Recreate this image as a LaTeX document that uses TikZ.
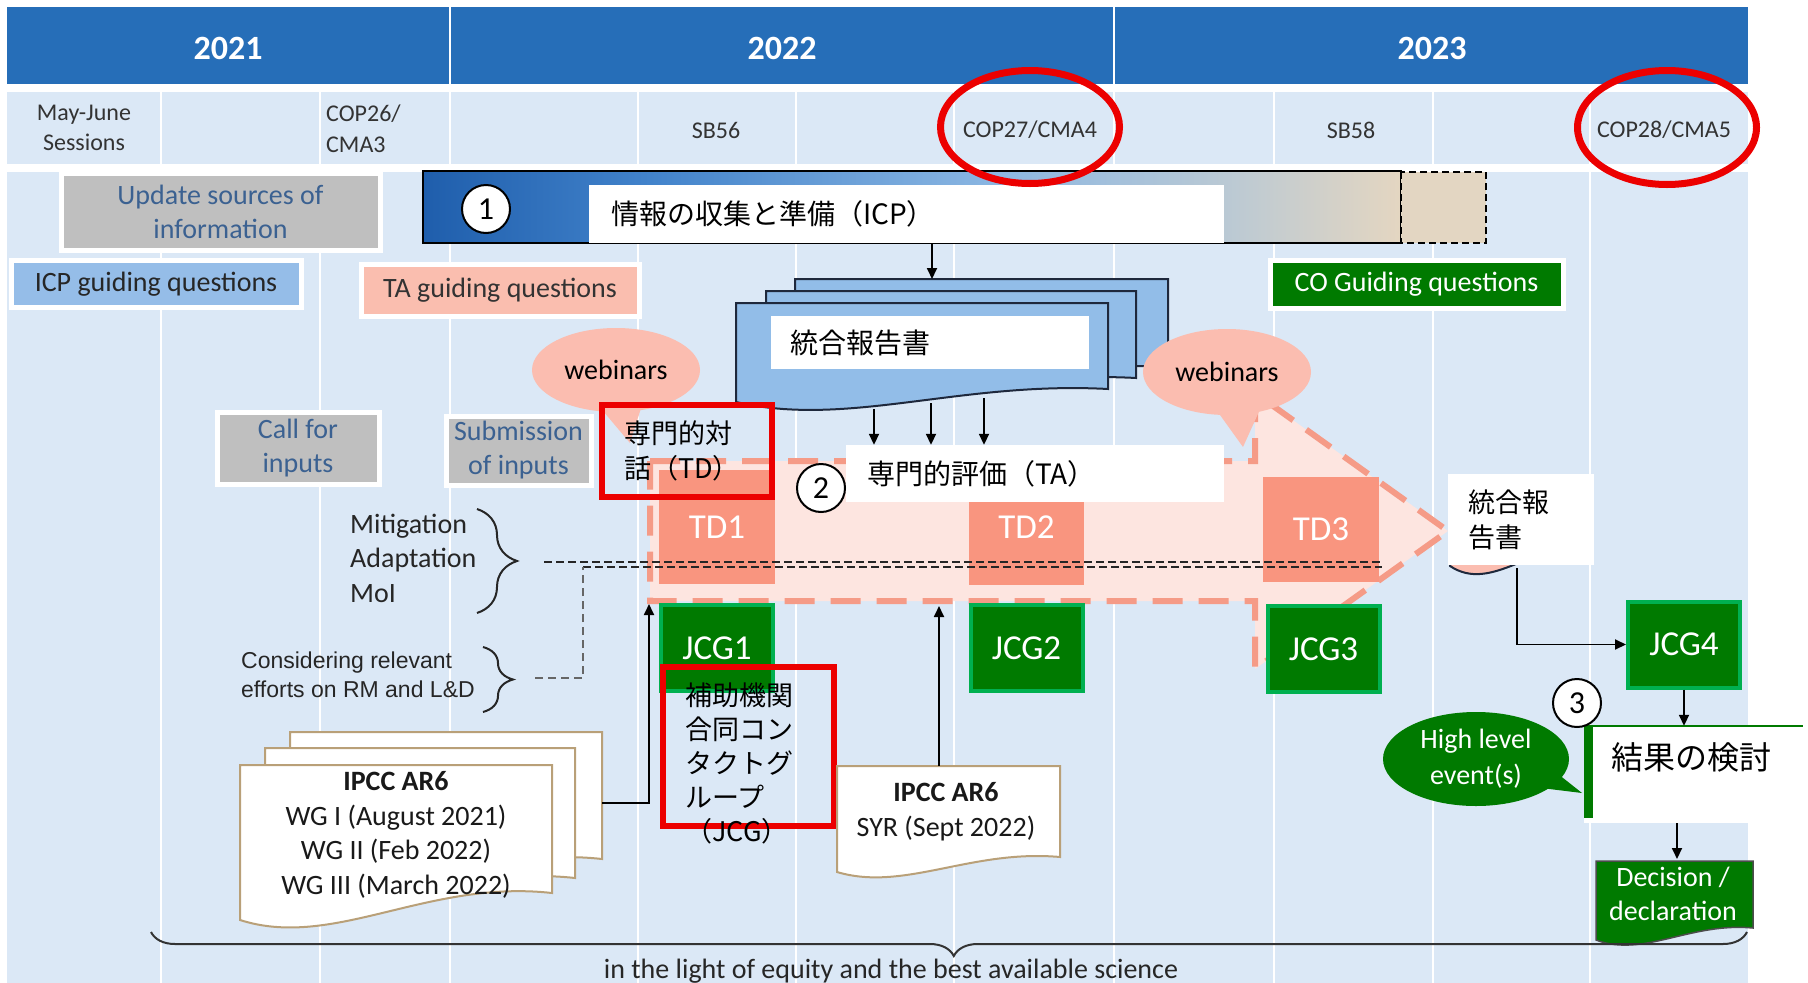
\documentclass[tikz,border=0pt]{standalone}
\usepackage{fontspec}
\setmainfont{Carlito}
\newfontfamily\jpf{Noto Sans CJK JP}
\newfontfamily\arialf{Liberation Sans}
\usetikzlibrary{arrows.meta,decorations.pathreplacing,calc,shapes.geometric}
\definecolor{hdrblue}{RGB}{38,110,184}
\definecolor{lightbg}{RGB}{219,232,246}
\definecolor{boxgray}{RGB}{191,191,191}
\definecolor{bluetext}{RGB}{59,97,145}
\definecolor{icpblue}{RGB}{149,189,232}
\definecolor{tasal}{RGB}{250,190,175}
\definecolor{webc}{RGB}{251,189,176}
\definecolor{tdsal}{RGB}{249,149,127}
\definecolor{arrfill}{RGB}{253,229,224}
\definecolor{arrdash}{RGB}{245,155,135}
\definecolor{dgreen}{RGB}{0,122,0}
\definecolor{lgreen}{RGB}{0,176,80}
\definecolor{docblue}{RGB}{146,189,232}
\definecolor{docline}{RGB}{30,40,60}
\definecolor{ipccline}{RGB}{185,160,120}
\definecolor{beige}{RGB}{227,214,194}
\definecolor{gA}{RGB}{31,94,172}
\definecolor{gB}{RGB}{66,131,203}
\definecolor{gC}{RGB}{140,183,226}
\definecolor{gD}{RGB}{186,201,212}
\definecolor{gE}{RGB}{228,214,193}
\definecolor{redc}{RGB}{236,0,0}
\newcommand\fsz[2]{\fontsize{#1}{#2}\selectfont}
% style, x1, ytop, x2, yLeftBottom, yRightBottom, dipLeft, riseRight
\newcommand\docshape[8]{\path[#1] (#2,#3) -- (#4,#3) -- (#4,#6) .. controls ({#2+0.6*(#4-#2)},{#6-#8}) and ({#2+0.3*(#4-#2)},{#5+#7}) .. (#2,#5) -- cycle;}
\begin{document}
\begin{tikzpicture}[x=1pt,y=-1pt,
  every node/.style={inner sep=0pt},
  hdr/.style={text=white, font=\bfseries\fsz{34}{40}},
  rowtwo/.style={text=black!80, font=\fsz{24}{31}},
  gbox/.style={fill=boxgray, draw=white, line width=5pt, text=bluetext, align=center, font=\fsz{28}{34}},
  qbox/.style={draw=white, line width=5pt, font=\fsz{28}{34}},
  arr/.style={-{Triangle[length=11pt,width=10pt]}, line width=1.8pt, black},
  numc/.style={circle, draw=black, fill=white, line width=2pt, minimum size=48pt, font=\fsz{32}{36}},
  tdbox/.style={fill=tdsal, text=white, font=\fsz{35}{40}},
  jcgbox/.style={fill=dgreen, draw=lgreen, line width=4pt, text=white, minimum width=112pt, minimum height=86pt, font=\fsz{35}{40}},
  jtext/.style={font=\jpf\fsz{28}{34}},
  ddash/.style={black!85, line width=2pt, dash pattern=on 8pt off 4pt}
]
\useasboundingbox (0,0) rectangle (1808,983);
\fill[white] (0,0) rectangle (1808,983);
% timeline background
\fill[hdrblue] (7,7) rectangle (1748,84);
\fill[lightbg] (7,92) rectangle (1748,164);
\fill[lightbg] (7,172) rectangle (1748,983);
\foreach \x in {450,1114} \draw[white, line width=2pt] (\x,7) -- (\x,84);
\foreach \x in {161,320,450,638,796,954,1114,1274,1433,1590} {
  \draw[white,line width=2pt] (\x,92) -- (\x,164);
  \draw[white,line width=2pt] (\x,172) -- (\x,983);}
\node[hdr] (y21) at (228,48) {2021};
\node[hdr] (y22) at (782,48) {2022};
\node[hdr] (y23) at (1432,48) {2023};
\node[rowtwo, align=center, font=\fsz{24}{30}] (mj) at (84,128) {May-June\\Sessions};
\node[rowtwo, align=left, anchor=west] (cop26) at (326,129) {COP26/\\CMA3};
\node[rowtwo] (sb56) at (716,130) {SB56};
\node[rowtwo] (cop27) at (1030,130) {COP27/CMA4};
\node[rowtwo] (sb58) at (1351,130) {SB58};
\node[rowtwo] (cop28) at (1664,130) {COP28/CMA5};
% guiding boxes
\node[gbox, minimum width=319pt, minimum height=77pt] (upd) at (220.5,211.5) {Update sources of\\information};
\node[qbox, fill=icpblue, text=black!85, minimum width=290pt, minimum height=47pt] (icpq) at (156,284) {ICP guiding questions};
\node[qbox, fill=tasal, text=black!80, minimum width=278pt, minimum height=52pt] (taq) at (500,290) {TA guiding questions};
\node[qbox, fill=dgreen, text=white, minimum width=293pt, minimum height=48pt] (coq) at (1416.5,284) {CO Guiding questions};
% ICP bar
\shade[left color=gA, right color=gB] (423,171) rectangle (650,243);
\shade[left color=gB, right color=gC] (650,171) rectangle (1000,243);
\shade[left color=gC, right color=gD] (1000,171) rectangle (1225,243);
\shade[left color=gD, right color=gE] (1225,171) rectangle (1401,243);
\draw[line width=2pt] (423,171) rectangle (1401,243);
\draw[fill=beige, line width=2pt, dash pattern=on 7pt off 4pt] (1401,172) rectangle (1486,243);
\node[numc] (n1) at (486,209) {1};
\node[jtext, anchor=west, fill=white, text width=591pt, inner xsep=22pt, minimum height=58pt, align=left] (icpt) at (589,214) {情報の収集と準備（ICP）};
% synthesis report stack
\docshape{fill=docblue, draw=docline, line width=2pt}{795}{279}{1168}{380}{367}{26}{8}
\docshape{fill=docblue, draw=docline, line width=2pt}{766}{291}{1136}{391}{378}{26}{8}
\docshape{fill=docblue, draw=docline, line width=2pt}{736}{303}{1108}{402}{389}{26}{8}
\node[jtext, anchor=west, fill=white, text width=280pt, inner xsep=19pt, minimum height=53pt, align=left] (doct) at (771,342.5) {統合報告書};
\coordinate (docTop) at (932,279);
\draw[arr] (icpt.south -| docTop) -- (docTop);
% TA arrow
\draw[fill=arrfill, draw=arrdash, line width=6pt, dash pattern=on 30pt off 16pt] (650,461) -- (1255,461) -- (1255,393) -- (1448,531) -- (1255,669) -- (1255,601) -- (650,601) -- cycle;
\node[tdbox, minimum width=116pt, minimum height=114pt] (td1) at (717,527) {TD1};
\node[tdbox, minimum width=115pt, minimum height=115pt] (td2) at (1026.5,527.5) {TD2};
\node[tdbox, minimum width=116pt, minimum height=105pt] (td3) at (1321,529.5) {TD3};
\node[jcgbox] (jcg1) at (717,648) {JCG1};
\node[jcgbox] (jcg2) at (1026.5,648) {JCG2};
\node[jcgbox] (jcg3) at (1323.5,649) {JCG3};
\node[jcgbox] (jcg4) at (1684,644.5) {JCG4};
\node[jtext, anchor=west, fill=white, text width=336pt, inner xsep=21pt, minimum height=57pt, align=left] (tat) at (846,473.5) {専門的評価（TA）};
\node[numc] (n2) at (821,488) {2};
\coordinate (d1) at (874,409);
\coordinate (d2) at (931,403);
\coordinate (d3) at (984,398);
\draw[arr] (d1) -- (d1 |- tat.north);
\draw[arr] (d2) -- (d2 |- tat.north);
\draw[arr] (d3) -- (d3 |- tat.north);
% webinars bubbles
\node[ellipse, fill=webc, minimum width=168pt, minimum height=84pt, font=\fsz{28}{34}] (web1) at (616,370) {webinars};
\fill[webc] (598,405) -- (630,443) -- (642,405) -- cycle;
\node[ellipse, fill=webc, minimum width=168pt, minimum height=86pt, font=\fsz{28}{34}] (web2) at (1227,372) {webinars};
\fill[webc] (1215,408) -- (1243,447) -- (1262,405) -- cycle;
% red TD box
\node[draw=redc, line width=6pt, minimum height=92pt, text width=126pt, inner xsep=22pt, align=left, font=\jpf\fsz{27}{35}] (tdr) at (687,451) {専門的対\\話（TD）};
% call / submission
\node[gbox, minimum width=162pt, minimum height=72pt] (call) at (298,448) {Call for\\inputs};
\node[gbox, minimum width=145pt, minimum height=69pt] (sub) at (518.5,450.5) {Submission\\of inputs};
% braces and topics
\node[anchor=west, align=left, text=black!85, font=\fsz{28}{34.5}] (topics) at (350,558) {Mitigation\\Adaptation\\MoI};
\draw[black!85, line width=2pt, decorate, decoration={brace, amplitude=40pt, aspect=0.5}] (477,509) -- (477,613);
\node[anchor=west, align=left, text=black!85, font=\arialf\fsz{23}{29}] (rmld) at (241,674.5) {Considering relevant\\efforts on RM and L\&D};
\draw[black!85, line width=2pt, decorate, decoration={brace, amplitude=30pt, aspect=0.5}] (483,647) -- (483,712);
\coordinate (mA) at (544,562);
\coordinate (mB) at (1382,562);
\coordinate (cA) at (535,678);
\coordinate (cB) at (583,567);
\coordinate (cC) at (1382,567);
\draw[ddash] (mA) -- (mB);
\draw[ddash] (cB) -- (cC);
\draw[black!60, line width=2pt, dash pattern=on 8pt off 5pt] (cA) -| (cB);
% IPCC AR6 WG stack
\docshape{fill=white, draw=ipccline, line width=2pt}{290}{732}{602}{886}{859}{30}{14}
\docshape{fill=white, draw=ipccline, line width=2pt}{265}{748}{575}{905}{878}{30}{14}
\docshape{fill=white, draw=ipccline, line width=2pt}{240}{765}{552}{920}{893}{30}{14}
\node[align=center, text=black!90, font=\fsz{28}{34.5}] (ipcc) at (396,835) {\textbf{IPCC AR6}\\WG I (August 2021)\\WG II (Feb 2022)\\WG III (March 2022)};
\coordinate (ipccR) at (602,803);
\coordinate (taIn) at (649,604);
\draw[arr] (ipccR) -| (taIn);
% red JCG box
\node[draw=redc, line width=6pt, minimum width=171pt, minimum height=159pt] (jcgr) at (748.5,746.5) {};
\node[anchor=north west, align=left, font=\jpf\fsz{27}{34}] (jcgt) at (685,683) {補助機関\\合同コン\\タクトグ\\ループ\\（JCG）};
% SYR
\docshape{fill=white, draw=ipccline, line width=2pt}{837}{766}{1060}{872}{857}{20}{8}
\node[align=center, text=black!90, font=\fsz{28}{35}] (syr) at (946,812) {\textbf{IPCC AR6}\\SYR (Sept 2022)};
\coordinate (syrT) at (939,766);
\coordinate (taIn2) at (939,606);
\draw[arr] (syrT) -- (taIn2);
% right synthesis report
\docshape{fill=webc, draw=docline, line width=2pt}{1450}{480}{1590}{566}{548}{28}{8}
\node[fill=white, minimum height=91pt, text width=106pt, inner xsep=20pt, align=left, font=\jpf\fsz{27}{35}] (rep2) at (1521,519.5) {統合報\\告書};
\coordinate (rep2b) at (1517,568);
\draw[arr] (rep2b) |- (jcg4.west);
% results
\node[fill=white, minimum width=219pt, minimum height=97pt] (res) at (1693.5,774.5) {};
\fill[dgreen] (1584,726) rectangle (1593,818);
\draw[dgreen, line width=1.5pt] (1584,726) -- (1803,726);
\node[anchor=west, font=\jpf\fsz{32}{38}] (rest) at (1611,757) {結果の検討};
\draw[arr] (jcg4.south) -- (jcg4.south |- res.north);
\node[numc] (n3) at (1577,703) {3};
\node[ellipse, fill=dgreen, text=white, minimum width=186pt, minimum height=94pt, align=center, font=\fsz{28}{36}] (hle) at (1476,759) {High level\\event(s)};
\fill[dgreen] (1533,787) -- (1582,793) -- (1553,770) -- cycle;
\coordinate (decT) at (1677,859);
\draw[arr] (res.south -| decT) -- (decT);
\docshape{fill=dgreen, draw=black!70, line width=1.5pt}{1596}{861}{1753}{940}{928}{18}{6}
\node[align=center, text=white, font=\fsz{28}{34}] (dec) at (1673,894) {Decision /\\declaration};
% bottom brace
\draw[black!80, line width=2pt, decorate, decoration={brace, mirror, amplitude=24pt, aspect=0.503}] (151,932) -- (1747,932);
\node[anchor=base, text=black!85, font=\fsz{28}{34}] (equity) at (891,978) {in the light of equity and the best available science};
% red ellipses
\draw[redc, line width=7pt] (1030,127) ellipse [x radius=89.5pt, y radius=56.5pt];
\draw[redc, line width=7pt] (1667,127.5) ellipse [x radius=89.5pt, y radius=57pt];
\end{tikzpicture}
\end{document}
